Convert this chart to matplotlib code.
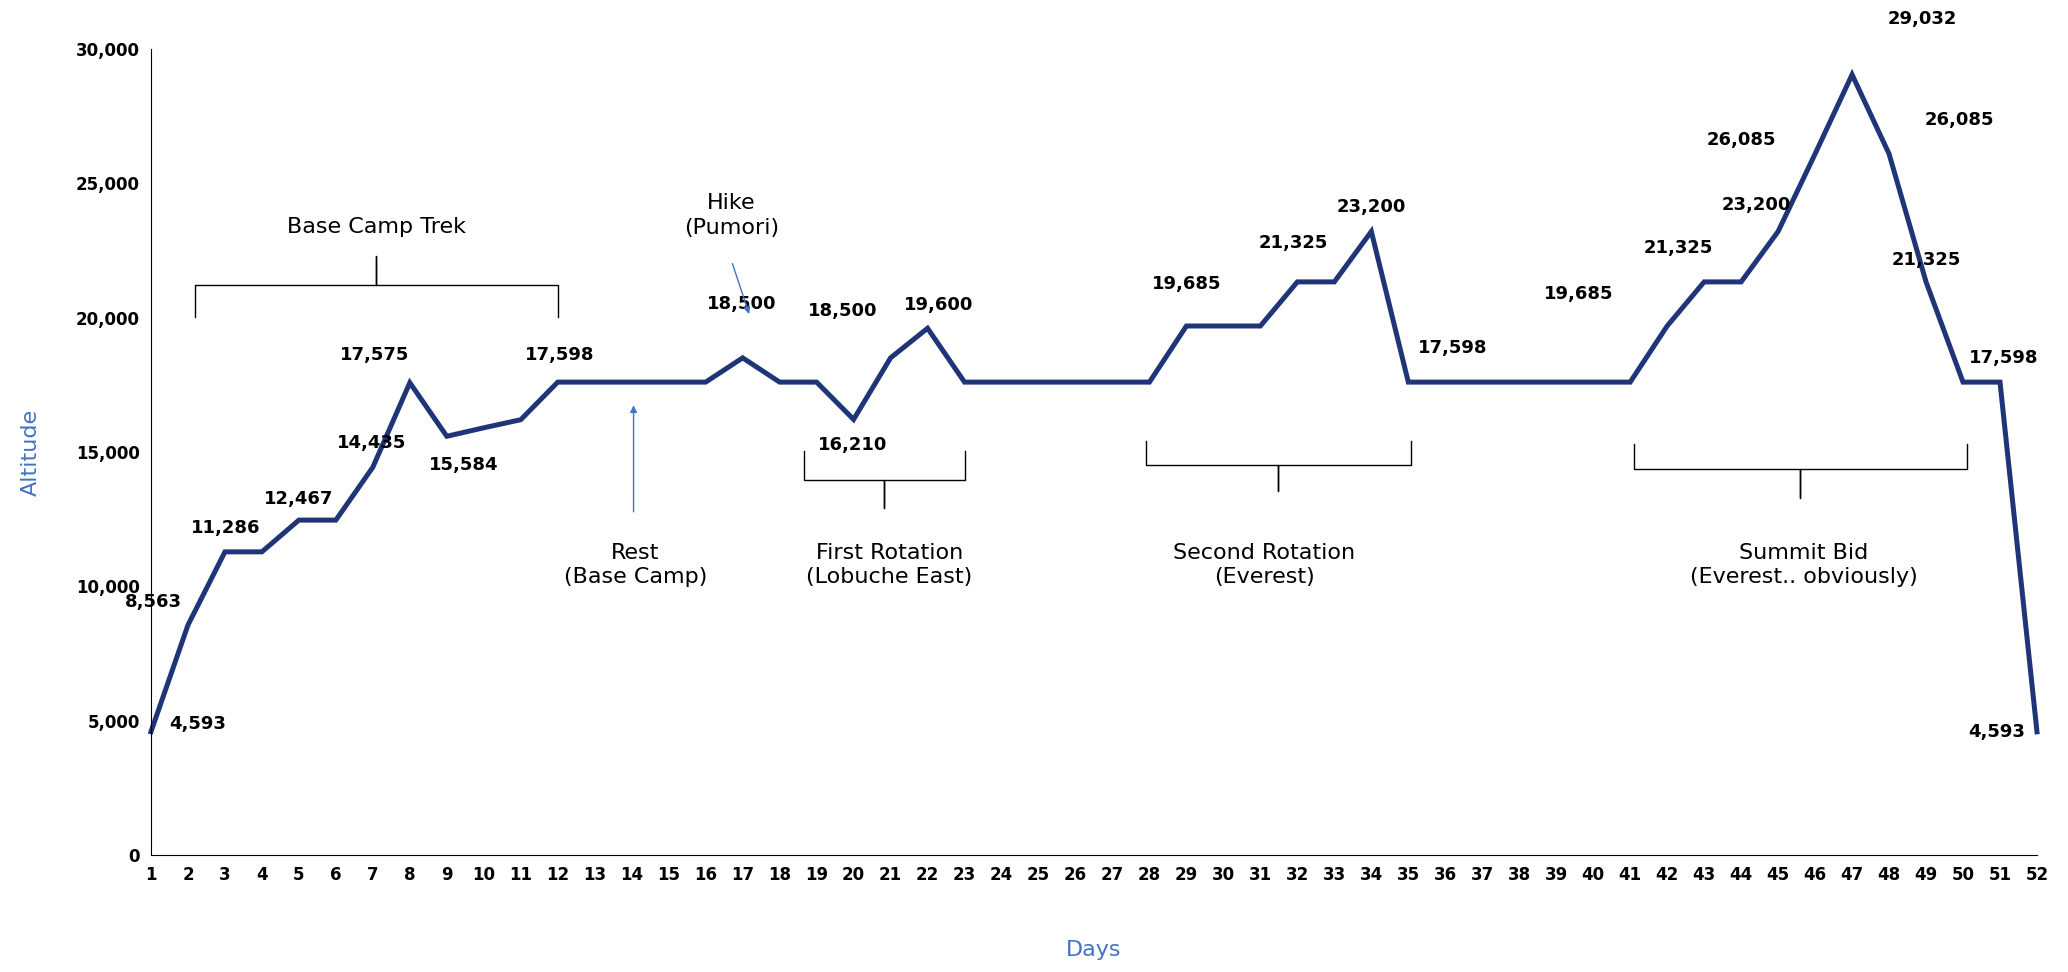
import numpy as np
import matplotlib.pyplot as plt

days = list(range(1, 53))
altitude = [4593, 8563, 11286, 11286, 12467, 12467, 14435, 17575, 15584, 15900,
            16200, 17598, 17598, 17598, 17598, 17598, 18500, 17598, 17598, 16210,
            18500, 19600, 17598, 17598, 17598, 17598, 17598, 17598, 19685, 19685,
            19685, 21325, 21325, 23200, 17598, 17598, 17598, 17598, 17598, 17598,
            17598, 19685, 21325, 21325, 23200, 26085, 29032, 26085, 21325, 17598,
            17598, 4593]

# data label text and where it sits (day, altitude)
label_text = ['4,593', '8,563', '11,286', '12,467', '14,435', '17,575', '15,584',
              '17,598', '18,500', '18,500', '19,600', '16,210', '19,685', '21,325',
              '23,200', '17,598', '19,685', '21,325', '26,085', '23,200', '29,032',
              '26,085', '21,325', '17,598', '4,593']
label_x = [2.25, 1.07, 3.03, 5.0, 6.96, 7.06, 9.45, 12.06, 16.98, 19.7, 22.3, 19.97,
           29.0, 31.9, 34.0, 36.2, 39.6, 42.3, 44.0, 44.4, 48.9, 49.9, 49.0, 51.1, 50.9]
label_y = [4900, 9430, 12170, 13250, 15320, 18600, 14530, 18600, 20520, 20230, 20470,
           15270, 21260, 22780, 24100, 18850, 20860, 22580, 26610, 24200, 31100,
           27340, 22140, 18500, 4570]

blue = '#4472C4'
navy = '#1F3578'

fig = plt.figure(figsize=(20.68, 9.72), dpi=100)
ax = fig.add_axes([0.073, 0.12, 0.912, 0.83])
ax.plot(days, altitude, color=navy, lw=3.6, solid_joinstyle='miter', clip_on=False)
ax.set_xlim(1, 52)
ax.set_ylim(0, 30000)
ax.set_xticks(days)
ax.set_yticks(range(0, 30001, 5000))
ax.set_yticklabels([f'{v:,}' for v in range(0, 30001, 5000)])
for t in ax.get_xticklabels() + ax.get_yticklabels():
    t.set_fontweight('bold')
    t.set_fontsize(12)
ax.tick_params(length=0, pad=8)
ax.spines['top'].set_visible(False)
ax.spines['right'].set_visible(False)
ax.set_xlabel('Days', color=blue, fontsize=16, labelpad=40)
ax.set_ylabel('Altitude', color=blue, fontsize=16, labelpad=25)

for t, x, y in zip(label_text, label_x, label_y):
    ax.text(x, y, t, ha='center', va='center', fontsize=13, fontweight='bold', clip_on=False)


def brace(x0, x1, tip, base, point):
    xm = (x0 + x1) / 2
    ax.plot([x0, x0, xm, xm, xm, x1, x1], [tip, base, base, point, base, base, tip],
            color='black', lw=1, clip_on=False)


brace(2.18, 12.0, 20030, 21200, 22300)
brace(18.65, 23.0, 15020, 13940, 12910)
brace(27.9, 35.06, 15410, 14530, 13550)
brace(41.1, 50.1, 15300, 14380, 13300)

notes = [('Base Camp Trek', 7.1, 23370), ('First Rotation\n(Lobuche East)', 20.97, 10800),
         ('Second Rotation\n(Everest)', 31.1, 10800), ('Summit Bid\n(Everest.. obviously)', 45.7, 10800),
         ('Rest\n(Base Camp)', 14.1, 10800), ('Hike\n(Pumori)', 16.7, 23800)]
for t, x, y in notes:
    ax.text(x, y, t, ha='center', va='center', fontsize=16, linespacing=1.3)

ax.annotate('', xy=(14.05, 16840), xytext=(14.05, 12670),
            arrowprops=dict(arrowstyle='-|>', color=blue, lw=1))
ax.annotate('', xy=(17.2, 20030), xytext=(16.7, 22100),
            arrowprops=dict(arrowstyle='-|>', color=blue, lw=1))

fig.savefig('out.png')
